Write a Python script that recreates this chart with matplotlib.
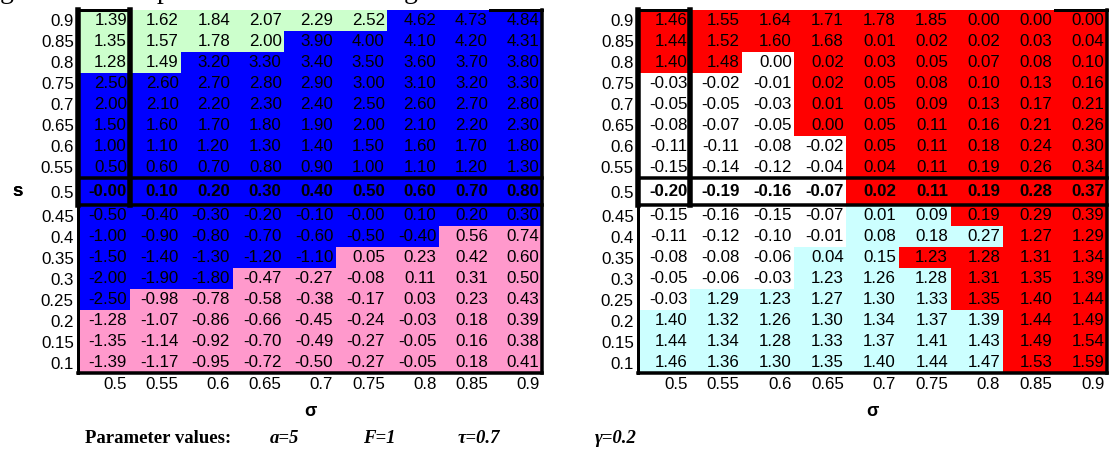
import numpy as np
import matplotlib.pyplot as plt
from matplotlib.colors import ListedColormap

# Data
sigma_labels = ["0.5", "0.55", "0.6", "0.65", "0.7", "0.75", "0.8", "0.85", "0.9"]
s_labels = ["0.9", "0.85", "0.8", "0.75", "0.7", "0.65", "0.6", "0.55", "0.5",
            "0.45", "0.4", "0.35", "0.3", "0.25", "0.2", "0.15", "0.1"]
bold_row = "0.5"

left_values = [
    [1.39, 1.62, 1.84, 2.07, 2.29, 2.52, 4.62, 4.73, 4.84],
    [1.35, 1.57, 1.78, 2.00, 3.90, 4.00, 4.10, 4.20, 4.31],
    [1.28, 1.49, 3.20, 3.30, 3.40, 3.50, 3.60, 3.70, 3.80],
    [2.50, 2.60, 2.70, 2.80, 2.90, 3.00, 3.10, 3.20, 3.30],
    [2.00, 2.10, 2.20, 2.30, 2.40, 2.50, 2.60, 2.70, 2.80],
    [1.50, 1.60, 1.70, 1.80, 1.90, 2.00, 2.10, 2.20, 2.30],
    [1.00, 1.10, 1.20, 1.30, 1.40, 1.50, 1.60, 1.70, 1.80],
    [0.50, 0.60, 0.70, 0.80, 0.90, 1.00, 1.10, 1.20, 1.30],
    [-0.0, 0.10, 0.20, 0.30, 0.40, 0.50, 0.60, 0.70, 0.80],
    [-0.50, -0.40, -0.30, -0.20, -0.10, -0.0, 0.10, 0.20, 0.30],
    [-1.00, -0.90, -0.80, -0.70, -0.60, -0.50, -0.40, 0.56, 0.74],
    [-1.50, -1.40, -1.30, -1.20, -1.10, 0.05, 0.23, 0.42, 0.60],
    [-2.00, -1.90, -1.80, -0.47, -0.27, -0.08, 0.11, 0.31, 0.50],
    [-2.50, -0.98, -0.78, -0.58, -0.38, -0.17, 0.03, 0.23, 0.43],
    [-1.28, -1.07, -0.86, -0.66, -0.45, -0.24, -0.03, 0.18, 0.39],
    [-1.35, -1.14, -0.92, -0.70, -0.49, -0.27, -0.05, 0.16, 0.38],
    [-1.39, -1.17, -0.95, -0.72, -0.50, -0.27, -0.05, 0.18, 0.41],
]
left_regime = [
    "GGGGGGBBB", "GGGGBBBBB", "GGBBBBBBB", "BBBBBBBBB", "BBBBBBBBB",
    "BBBBBBBBB", "BBBBBBBBB", "BBBBBBBBB", "BBBBBBBBB", "BBBBBBBBB",
    "BBBBBBBPP", "BBBBBPPPP", "BBBPPPPPP", "BPPPPPPPP", "PPPPPPPPP",
    "PPPPPPPPP", "PPPPPPPPP",
]

right_values = [
    [1.46, 1.55, 1.64, 1.71, 1.78, 1.85, 0.00, 0.00, 0.00],
    [1.44, 1.52, 1.60, 1.68, 0.01, 0.02, 0.02, 0.03, 0.04],
    [1.40, 1.48, 0.00, 0.02, 0.03, 0.05, 0.07, 0.08, 0.10],
    [-0.03, -0.02, -0.01, 0.02, 0.05, 0.08, 0.10, 0.13, 0.16],
    [-0.05, -0.05, -0.03, 0.01, 0.05, 0.09, 0.13, 0.17, 0.21],
    [-0.08, -0.07, -0.05, 0.00, 0.05, 0.11, 0.16, 0.21, 0.26],
    [-0.11, -0.11, -0.08, -0.02, 0.05, 0.11, 0.18, 0.24, 0.30],
    [-0.15, -0.14, -0.12, -0.04, 0.04, 0.11, 0.19, 0.26, 0.34],
    [-0.20, -0.19, -0.16, -0.07, 0.02, 0.11, 0.19, 0.28, 0.37],
    [-0.15, -0.16, -0.15, -0.07, 0.01, 0.09, 0.19, 0.29, 0.39],
    [-0.11, -0.12, -0.10, -0.01, 0.08, 0.18, 0.27, 1.27, 1.29],
    [-0.08, -0.08, -0.06, 0.04, 0.15, 1.23, 1.28, 1.31, 1.34],
    [-0.05, -0.06, -0.03, 1.23, 1.26, 1.28, 1.31, 1.35, 1.39],
    [-0.03, 1.29, 1.23, 1.27, 1.30, 1.33, 1.35, 1.40, 1.44],
    [1.40, 1.32, 1.26, 1.30, 1.34, 1.37, 1.39, 1.44, 1.49],
    [1.44, 1.34, 1.28, 1.33, 1.37, 1.41, 1.43, 1.49, 1.54],
    [1.46, 1.36, 1.30, 1.35, 1.40, 1.44, 1.47, 1.53, 1.59],
]
right_regime = [
    "RRRRRRRRR", "RRRRRRRRR", "RRWRRRRRR", "WWWRRRRRR", "WWWRRRRRR",
    "WWWRRRRRR", "WWWWRRRRR", "WWWWRRRRR", "WWWWRRRRR", "WWWWCCRRR",
    "WWWWCCCRR", "WWWCCRRRR", "WWWCCCRRR", "WCCCCCRRR", "CCCCCCCRR",
    "CCCCCCCRR", "CCCCCCCRR",
]

left_colors = {"G": "#CCFFCC", "B": "#0000FF", "P": "#FF99CC"}
right_colors = {"R": "#FF0000", "W": "#FFFFFF", "C": "#CCFFFF"}

parameters = ["a=5", "F=1", "\u03c4=0.7", "\u03b3=0.2"]

W, H = 1109, 450
fig = plt.figure(figsize=(W / 100, H / 100), dpi=100)
plt.rcParams['font.family'] = ['Liberation Sans', 'DejaVu Sans']
FS = 12.2


def px(v):
    return v * 0.72


def draw_table(x0, x1, y0, y1, values, regime, colors):
    ax = fig.add_axes([x0 / W, 1 - y1 / H, (x1 - x0) / W, (y1 - y0) / H])
    keys = list(colors.keys())
    codes = np.array([[keys.index(c) for c in row] for row in regime])
    cmap = ListedColormap([colors[k] for k in keys])

    ncol = len(sigma_labels)
    ib = s_labels.index(bold_row)
    heights = np.ones(len(s_labels))
    heights[ib] = 1.3
    y_edges = np.concatenate([[0], np.cumsum(heights)])
    x_edges = np.arange(ncol + 1)
    centers = (y_edges[:-1] + y_edges[1:]) / 2
    total = y_edges[-1]

    ax.pcolormesh(x_edges, y_edges, codes, cmap=cmap, vmin=-0.5, vmax=len(keys) - 0.5)
    ax.set_xlim(0, ncol)
    ax.set_ylim(total, 0)
    for sp in ax.spines.values():
        sp.set_visible(False)

    for i, row in enumerate(values):
        for j, v in enumerate(row):
            ax.text(j + 0.95, centers[i], f"{v:.2f}", ha='right', va='center',
                    fontsize=FS, fontweight='bold' if i == ib else 'normal')

    ax.set_yticks(centers)
    ax.set_yticklabels(s_labels)
    ax.set_xticks(np.arange(ncol) + 0.95)
    ax.set_xticklabels(sigma_labels, ha='right')
    ax.tick_params(length=0, labelsize=FS)
    ax.tick_params(axis='y', pad=3)
    ax.tick_params(axis='x', pad=3)

    k = dict(color='black', clip_on=False, solid_capstyle='projecting')
    # bold row frame
    ax.plot([0, ncol], [y_edges[ib], y_edges[ib]], lw=px(3.5), **k)
    ax.plot([0, ncol], [y_edges[ib + 1], y_edges[ib + 1]], lw=px(3.5), **k)
    # first column box
    ax.plot([0, 0], [0, y_edges[ib + 1]], lw=px(5.5), **k)
    ax.plot([1, 1], [0, y_edges[ib + 1]], lw=px(5.5), **k)
    ax.plot([0, 1], [0, 0], lw=px(3), **k)
    # outer border
    ax.plot([ncol - 1, ncol], [0, 0], lw=px(3), **k)
    ax.plot([ncol, ncol], [0, total], lw=px(3.5), **k)
    ax.plot([0, ncol], [total, total], lw=px(3.5), **k)
    ax.plot([0, 0], [y_edges[ib + 1], total], lw=px(3), **k)

    ax.set_xlabel("\u03c3", fontsize=13, fontweight='bold', labelpad=8)
    ax.set_ylabel("s", fontsize=13.5, fontweight='bold', rotation=0, va='center')
    ax.yaxis.set_label_coords(-(x0 - 18) / (x1 - x0), 1 - (centers[ib] / total))
    return ax


draw_table(78, 542, 10, 373, left_values, left_regime, left_colors)
draw_table(638, 1107, 10, 373, right_values, right_regime, right_colors)

# cut-off caption at the top (only descenders visible, as in the source)
for ch, x in [("g", 0), ("p", 157), ("g", 404)]:
    fig.text(x / W, 1 + 2 / H, ch, fontsize=20, family='Liberation Serif', va='baseline')

fig.text(85 / W, 1 - 443 / H, "Parameter values:", fontsize=13.5, fontweight='bold',
         family='Liberation Serif', va='baseline')
for label, x in zip(parameters, [270, 363, 458, 595]):
    fig.text(x / W, 1 - 443 / H, label, fontsize=13.5, fontweight='bold', style='italic',
             family='Liberation Serif', va='baseline')

fig.savefig("out.png", dpi=100)
